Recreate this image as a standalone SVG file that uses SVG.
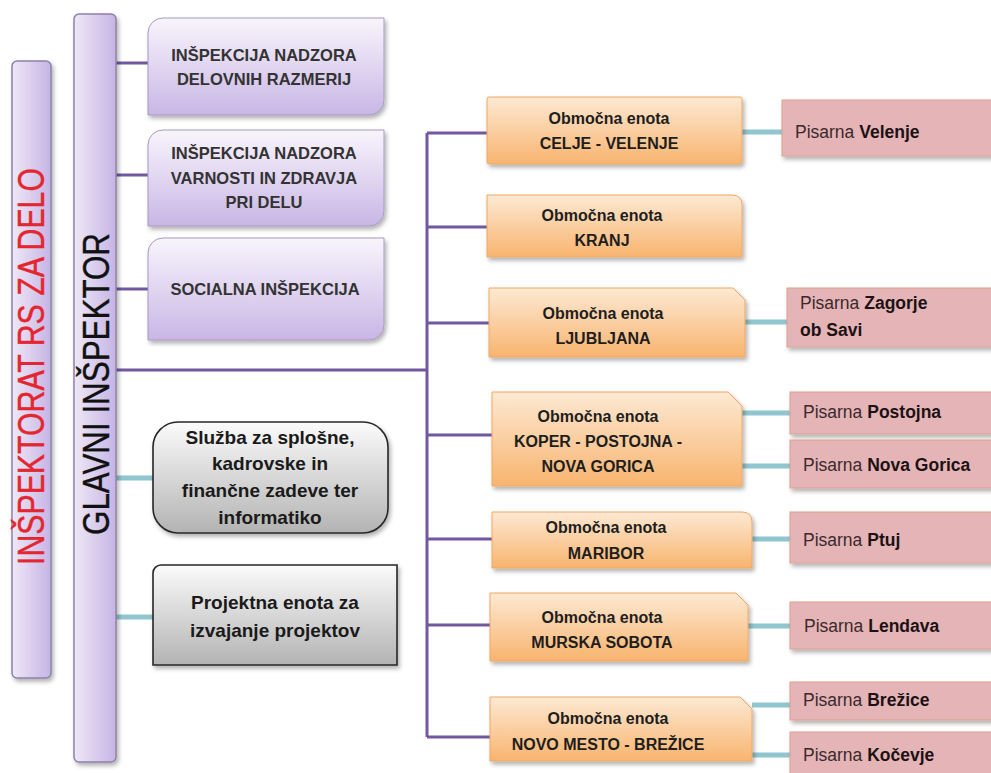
<svg xmlns="http://www.w3.org/2000/svg" width="991" height="773" viewBox="0 0 991 773">
<defs>
  <linearGradient id="gBar" x1="0" y1="0" x2="1" y2="0">
    <stop offset="0" stop-color="#eee8f7"/>
    <stop offset="1" stop-color="#c6b4e4"/>
  </linearGradient>
  <linearGradient id="gPur" x1="0" y1="0" x2="0" y2="1">
    <stop offset="0" stop-color="#f8f5fc"/>
    <stop offset="1" stop-color="#c9b6e5"/>
  </linearGradient>
  <linearGradient id="gOra" x1="0" y1="0" x2="0" y2="1">
    <stop offset="0" stop-color="#fde9d3"/>
    <stop offset="1" stop-color="#f8b46f"/>
  </linearGradient>
  <linearGradient id="gGray" x1="0" y1="0" x2="0" y2="1">
    <stop offset="0" stop-color="#fbfbfb"/>
    <stop offset="1" stop-color="#b3b3b3"/>
  </linearGradient>
  <filter id="sh" x="-10%" y="-10%" width="130%" height="140%">
    <feDropShadow dx="2" dy="3" stdDeviation="2" flood-color="#000" flood-opacity="0.3"/>
  </filter>
  <style>
    .bar{fill:url(#gBar);stroke:#8e80aa;stroke-width:1.5;filter:url(#sh)}
    .pur{fill:url(#gPur);stroke:#a898c4;stroke-width:1;filter:url(#sh)}
    .ora{fill:url(#gOra);stroke:#eea864;stroke-width:1;filter:url(#sh)}
    .pink{fill:#e5b4b6;stroke:#dca08e;stroke-width:1;filter:url(#sh)}
    .gray{fill:url(#gGray);stroke:#262626;stroke-width:1.6;filter:url(#sh)}
    .cp{stroke:#7158a0;stroke-width:3;fill:none}
    .ct{stroke:#8fc6cf;stroke-width:5;fill:none}
    text{font-family:"Liberation Sans",Arial,sans-serif}
    .pt{font-size:16.5px;font-weight:bold;fill:#333;text-anchor:middle}
    .ot{font-size:16px;font-weight:bold;fill:#1e1e1e;text-anchor:middle}
    .gt{font-size:19px;font-weight:bold;fill:#1a1a1a;text-anchor:middle}
    .pn{font-size:17.5px;fill:#3a2a2c}
    .pn tspan{font-weight:bold;fill:#1c1214}
  </style>
</defs>
<rect width="991" height="773" fill="#ffffff"/>

<g id="connectors">
  <path class="cp" d="M116,63 H148 M116,175 H148 M116,289 H148 M116,370 H427"/>
  <path class="cp" d="M427,133 V737"/>
  <path class="cp" d="M427,133 H487 M427,227 H487 M427,323 H489 M427,435 H492 M427,539 H492 M427,625 H490 M427,737 H490"/>
  <path class="ct" d="M116,478 H153 M116,617 H153"/>
  <path class="ct" d="M742,132 H782 M745,322 H787 M742,413 H790 M742,466 H790 M752,539 H790 M748,626 H790 M752,705 H790 M752,755 H790"/>
</g>

<g id="inspektorat">
  <rect class="bar" x="12" y="61" width="39" height="617" rx="5"/>
  <text transform="translate(44,366.5) rotate(-90)" text-anchor="middle" font-size="37" fill="#e3262f" stroke="#e3262f" stroke-width="0.4" textLength="397" lengthAdjust="spacingAndGlyphs">INŠPEKTORAT RS ZA DELO</text>
</g>

<g id="glavni">
  <rect class="bar" x="74" y="14" width="42" height="748" rx="5"/>
  <text transform="translate(109,384) rotate(-90)" text-anchor="middle" font-size="37" fill="#111" stroke="#111" stroke-width="0.4" textLength="302" lengthAdjust="spacingAndGlyphs">GLAVNI INŠPEKTOR</text>
</g>

<g id="idr">
  <path class="pur" d="M148,33 A15,15 0 0 1 163,18 H384 V100 A15,15 0 0 1 369,115 H148 Z"/>
  <text class="pt" x="264" y="61">INŠPEKCIJA NADZORA</text>
  <text class="pt" x="264" y="85">DELOVNIH RAZMERIJ</text>
</g>
<g id="ivz">
  <path class="pur" d="M148,145 A15,15 0 0 1 163,130 H384 V211 A15,15 0 0 1 369,226 H148 Z"/>
  <text class="pt" x="264" y="159">INŠPEKCIJA NADZORA</text>
  <text class="pt" x="264" y="184">VARNOSTI IN ZDRAVJA</text>
  <text class="pt" x="264" y="208">PRI DELU</text>
</g>
<g id="si">
  <path class="pur" d="M148,253 A15,15 0 0 1 163,238 H384 V325 A15,15 0 0 1 369,340 H148 Z"/>
  <text class="pt" x="265" y="295">SOCIALNA INŠPEKCIJA</text>
</g>

<g id="sluzba">
  <rect class="gray" x="153" y="422" width="235" height="111" rx="25"/>
  <text class="gt" x="270" y="444">Služba za splošne,</text>
  <text class="gt" x="270" y="470">kadrovske in</text>
  <text class="gt" x="270" y="497">finančne zadeve ter</text>
  <text class="gt" x="270" y="524">informatiko</text>
</g>
<g id="projektna">
  <path class="gray" d="M153,573 A8,8 0 0 1 161,565 H397 V665 H153 Z"/>
  <text class="gt" x="275" y="609">Projektna enota za</text>
  <text class="gt" x="275" y="637">izvajanje projektov</text>
</g>

<g id="oe-celje">
  <rect class="ora" x="487" y="97" width="255" height="67" rx="2"/>
  <text class="ot" x="609" y="124">Območna enota</text>
  <text class="ot" x="609" y="149">CELJE - VELENJE</text>
</g>
<g id="oe-kranj">
  <path class="ora" d="M487,195 H732 Q742,195 742,205 V257 H487 Z"/>
  <text class="ot" x="602" y="221">Območna enota</text>
  <text class="ot" x="602" y="246">KRANJ</text>
</g>
<g id="oe-ljubljana">
  <path class="ora" d="M489,288 H733 L745,300 V357 H489 Z"/>
  <text class="ot" x="603" y="319">Območna enota</text>
  <text class="ot" x="603" y="344">LJUBLJANA</text>
</g>
<g id="oe-koper">
  <path class="ora" d="M492,392 H728 L742,406 V486 H492 Z"/>
  <text class="ot" x="598" y="422">Območna enota</text>
  <text class="ot" x="598" y="447">KOPER - POSTOJNA -</text>
  <text class="ot" x="598" y="472">NOVA GORICA</text>
</g>
<g id="oe-maribor">
  <path class="ora" d="M492,512 H742 Q752,512 752,522 V568 H492 Z"/>
  <text class="ot" x="606" y="533">Območna enota</text>
  <text class="ot" x="606" y="559">MARIBOR</text>
</g>
<g id="oe-murska">
  <path class="ora" d="M490,593 H736 L748,605 V661 H490 Z"/>
  <text class="ot" x="602" y="623">Območna enota</text>
  <text class="ot" x="602" y="648">MURSKA SOBOTA</text>
</g>
<g id="oe-novomesto">
  <path class="ora" d="M490,697 H740 L752,709 V761 H490 Z"/>
  <text class="ot" x="608" y="724">Območna enota</text>
  <text class="ot" x="608" y="750">NOVO MESTO - BREŽICE</text>
</g>

<g id="p-velenje">
  <rect class="pink" x="782" y="100" width="215" height="56"/>
  <text class="pn" x="795" y="138">Pisarna <tspan>Velenje</tspan></text>
</g>
<g id="p-zagorje">
  <rect class="pink" x="787" y="288" width="210" height="59"/>
  <text class="pn" x="800" y="309">Pisarna <tspan>Zagorje</tspan></text>
  <text class="pn" x="800" y="336"><tspan>ob Savi</tspan></text>
</g>
<g id="p-postojna">
  <rect class="pink" x="790" y="392" width="207" height="42"/>
  <text class="pn" x="803" y="418">Pisarna <tspan>Postojna</tspan></text>
</g>
<g id="p-novagorica">
  <rect class="pink" x="790" y="440" width="207" height="48"/>
  <text class="pn" x="803" y="471">Pisarna <tspan>Nova Gorica</tspan></text>
</g>
<g id="p-ptuj">
  <rect class="pink" x="790" y="512" width="207" height="51"/>
  <text class="pn" x="803" y="546">Pisarna <tspan>Ptuj</tspan></text>
</g>
<g id="p-lendava">
  <rect class="pink" x="790" y="602" width="207" height="47"/>
  <text class="pn" x="804" y="632">Pisarna <tspan>Lendava</tspan></text>
</g>
<g id="p-brezice">
  <rect class="pink" x="790" y="682" width="207" height="38"/>
  <text class="pn" x="803" y="706">Pisarna <tspan>Brežice</tspan></text>
</g>
<g id="p-kocevje">
  <rect class="pink" x="790" y="732" width="207" height="50"/>
  <text class="pn" x="803" y="761">Pisarna <tspan>Kočevje</tspan></text>
</g>
</svg>
